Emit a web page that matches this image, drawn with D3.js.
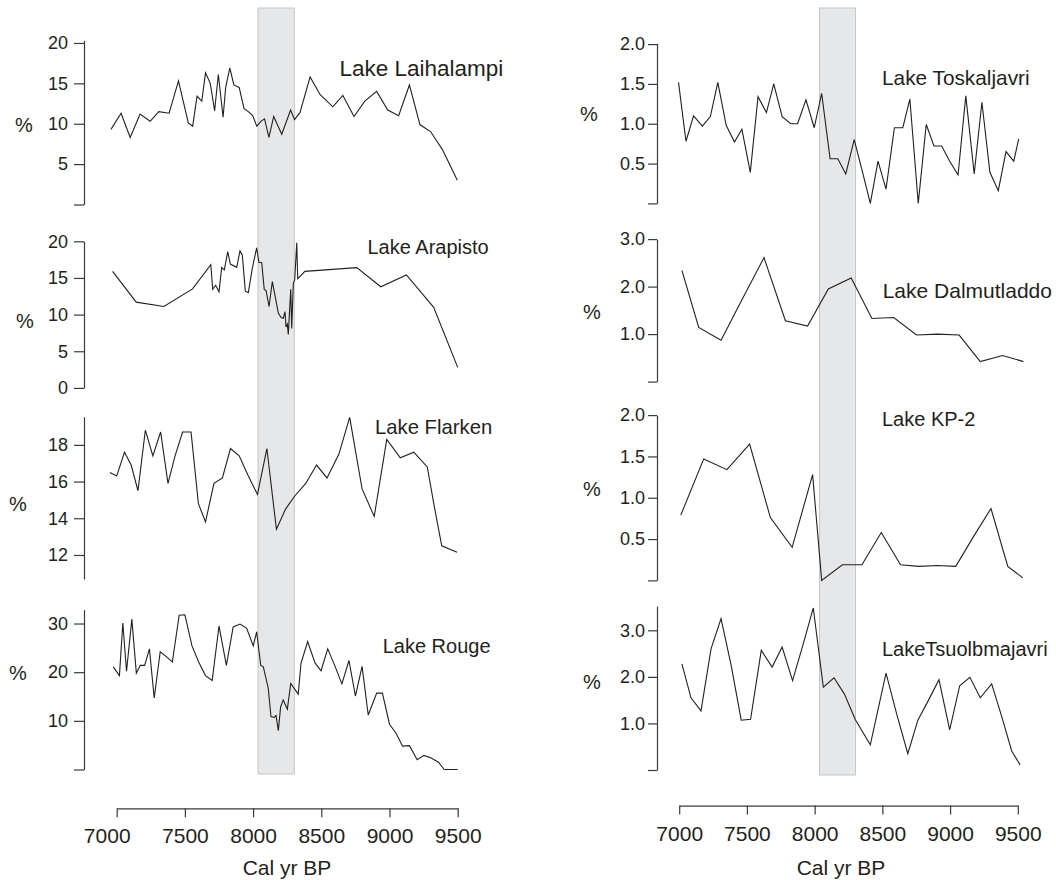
<!DOCTYPE html>
<html>
<head>
<meta charset="utf-8">
<script src="https://cdn.jsdelivr.net/npm/d3@7"></script>
<style>
    body { margin: 0; background: #fff; }
    text { font-family: "Liberation Sans", Arial, sans-serif; fill: #231f20; }
</style>
</head>
<body>
<div id="chart"></div>
<script>
// ---- data: [cal yr BP, %] ----
const bandYears = [8036, 8302];
const xTicks = [7000, 7500, 8000, 8500, 9000, 9500];

const laihalampi = [[6958,9.3],[7032,11.3],[7099,8.3],[7171,11.2],[7245,10.3],[7309,11.5],[7384,11.3],[7453,15.3],
    [7525,10.1],[7557,9.7],[7589,13.4],[7624,12.8],[7651,16.3],[7686,15.0],[7718,11.6],[7745,16.1],[7780,10.8],
    [7799,14.5],[7829,16.9],[7859,14.8],[7898,14.5],[7933,11.9],[7965,11.5],[7997,11.0],[8027,9.7],[8057,10.3],
    [8084,10.6],[8116,8.3],[8151,10.9],[8210,8.7],[8275,11.7],[8304,10.5],[8344,11.4],[8418,15.8],[8492,13.6],
    [8584,12.1],[8658,13.5],[8740,10.9],[8819,12.8],[8906,14.0],[8987,11.7],[9067,11.0],[9146,14.8],[9223,9.9],
    [9302,9.0],[9388,6.8],[9497,3.0]];

const arapisto = [[6970,15.9],[7143,11.7],[7346,11.1],[7556,13.5],[7690,16.8],[7704,13.45],[7726,14.0],[7750,13.1],
    [7770,16.45],[7789,16.1],[7814,18.6],[7833,16.9],[7880,16.45],[7904,18.7],[7921,18.1],[7943,13.2],[7965,13.0],
    [7994,16.3],[8026,19.1],[8043,17.1],[8063,17.1],[8082,13.4],[8095,13.3],[8117,11.1],[8141,14.5],[8185,10.2],
    [8205,9.6],[8221,9.5],[8234,10.4],[8241,8.3],[8251,8.7],[8258,7.3],[8276,13.45],[8283,8.1],[8295,14.3],
    [8305,14.7],[8320,19.8],[8327,14.9],[8380,15.9],[8760,16.4],[8936,13.8],[9124,15.4],[9324,11.0],[9500,2.8]];

const flarken = [[6950,16.5],[7000,16.3],[7057,17.6],[7106,16.9],[7156,15.5],[7210,18.8],[7265,17.4],[7322,18.7],
    [7376,15.9],[7428,17.4],[7483,18.7],[7545,18.7],[7599,14.8],[7651,13.8],[7713,15.9],[7775,16.2],[7834,17.8],
    [7898,17.4],[7965,16.3],[8032,15.3],[8101,17.8],[8171,13.4],[8238,14.5],[8304,15.2],[8386,15.9],[8465,16.9],
    [8542,16.2],[8629,17.5],[8708,19.5],[8799,15.6],[8888,14.1],[8980,18.3],[9079,17.3],[9178,17.6],[9277,16.8],
    [9327,14.7],[9383,12.5],[9495,12.15]];

const rouge = [[6975,21.1],[7020,19.3],[7045,30.1],[7072,20.2],[7111,30.9],[7144,19.8],[7173,21.4],[7205,21.4],
    [7240,24.8],[7275,14.7],[7319,24.2],[7359,23.3],[7408,22.1],[7458,31.7],[7500,31.8],[7552,25.4],[7601,22.1],
    [7651,19.3],[7700,18.3],[7750,29.5],[7804,21.4],[7854,29.3],[7904,29.9],[7953,29.0],[8001,25.4],[8026,28.3],
    [8056,21.4],[8075,21.1],[8111,16.7],[8131,10.9],[8155,10.7],[8168,11.1],[8185,8.0],[8202,12.9],[8221,14.3],
    [8251,12.4],[8276,17.7],[8331,15.5],[8351,21.8],[8400,26.3],[8454,21.9],[8498,20.3],[8547,24.8],[8601,21.2],
    [8651,17.6],[8703,22.4],[8750,15.1],[8799,21.2],[8844,11.2],[8906,15.7],[8948,15.7],[9000,9.3],[9047,7.5],
    [9096,4.8],[9146,4.9],[9203,2.0],[9252,2.9],[9302,2.4],[9359,1.5],[9401,0],[9500,0]];

const toskaljavri = [[6995,1.52],[7050,0.78],[7106,1.10],[7171,0.97],[7230,1.09],[7285,1.52],[7347,0.98],[7408,0.77],
    [7463,0.93],[7525,0.39],[7582,1.34],[7644,1.14],[7698,1.50],[7760,1.09],[7824,1.0],[7874,1.0],[7936,1.30],
    [7997,0.95],[8052,1.38],[8114,0.56],[8171,0.56],[8230,0.37],[8292,0.80],[8354,0.39],[8411,0.0],[8468,0.53],
    [8527,0.18],[8589,0.95],[8651,0.95],[8703,1.31],[8765,0.0],[8824,0.99],[8881,0.72],[8938,0.72],[8997,0.53],
    [9059,0.36],[9116,1.35],[9178,0.37],[9235,1.27],[9294,0.39],[9356,0.16],[9413,0.65],[9470,0.53],[9507,0.81]];

const dalmutladdo = [[7020,2.34],[7144,1.14],[7309,0.87],[7470,1.76],[7626,2.61],[7784,1.28],[7948,1.17],[8101,1.95],
    [8270,2.18],[8423,1.33],[8584,1.35],[8752,0.98],[8906,1.0],[9067,0.98],[9223,0.42],[9388,0.55],[9542,0.42]];

const kp2 = [[7012,0.79],[7181,1.47],[7352,1.34],[7520,1.65],[7673,0.76],[7834,0.40],[7985,1.28],[8052,0.0],
    [8205,0.19],[8349,0.19],[8492,0.58],[8634,0.19],[8770,0.17],[8906,0.18],[9042,0.17],[9173,0.53],[9302,0.87],
    [9426,0.17],[9537,0.03]];

const tsuolbmajavri = [[7020,2.28],[7087,1.55],[7161,1.27],[7235,2.60],[7309,3.25],[7384,2.24],[7458,1.07],[7527,1.09],
    [7606,2.57],[7686,2.21],[7760,2.64],[7837,1.92],[7916,2.71],[7990,3.48],[8064,1.78],[8143,1.98],[8220,1.63],
    [8299,1.09],[8411,0.54],[8527,2.08],[8609,1.17],[8688,0.35],[8762,1.07],[8839,1.49],[8918,1.94],[8997,0.86],
    [9071,1.81],[9146,1.99],[9223,1.55],[9307,1.85],[9383,1.13],[9455,0.41],[9517,0.11]];

// ---- layout ----
const width = 1056, height = 880;
const ink = "#231f20";

const columns = [
    {xRange: [116.7, 457.7], axisX: 84, xAxisY: 808.3, tickSize: 10, tickPad: 6, title: [287, 875], bandY: [8, 774]},
    {xRange: [679.2, 1017.8], axisX: 657, xAxisY: 805.6, tickSize: 9, tickPad: 3, title: [841, 875], bandY: [8, 775]}
];

const intFmt = d3.format("d"), decFmt = d3.format(".1f");

const panels = [
    {name: "Lake Laihalampi", data: laihalampi, col: 0, domain: [0, 20.33], range: [204.5, 40.3],
        ticks: [0, 5, 10, 15, 20], hide: [0], fmt: intFmt, label: [339.5, 75.7], size: 22.5, pct: [24, 125]},
    {name: "Lake Arapisto", data: arapisto, col: 0, domain: [0, 20], range: [387.9, 241.3],
        ticks: [0, 5, 10, 15, 20], hide: [], fmt: intFmt, label: [367.5, 253.8], size: 20, pct: [25, 321]},
    {name: "Lake Flarken", data: flarken, col: 0, domain: [10.69, 19.53], range: [579, 416.8],
        ticks: [12, 14, 16, 18], hide: [], fmt: intFmt, label: [375, 433.7], size: 20.3, pct: [18, 504]},
    {name: "Lake Rouge", data: rouge, col: 0, domain: [0, 32.84], range: [769.5, 609.7],
        ticks: [0, 10, 20, 30], hide: [0], fmt: intFmt, label: [382.7, 652.5], size: 20, pct: [18, 673]},
    {name: "Lake Toskaljavri", data: toskaljavri, col: 1, domain: [0, 2.01], range: [203.4, 43.3],
        ticks: [0, 0.5, 1, 1.5, 2], hide: [0], fmt: decFmt, label: [882, 85.4], size: 20.8, pct: [589, 114]},
    {name: "Lake Dalmutladdo", data: dalmutladdo, col: 1, domain: [0, 3], range: [381.6, 239.1],
        ticks: [0, 1, 2, 3], hide: [0], fmt: decFmt, label: [882.7, 297.8], size: 21, pct: [592, 312]},
    {name: "Lake KP-2", data: kp2, col: 1, domain: [0, 2], range: [580.4, 415.1],
        ticks: [0, 0.5, 1, 1.5, 2], hide: [0], fmt: decFmt, label: [882, 426.1], size: 20, pct: [592, 489]},
    {name: "LakeTsuolbmajavri", data: tsuolbmajavri, col: 1, domain: [0, 3.52], range: [770, 606.1],
        ticks: [0, 1, 2, 3], hide: [0], fmt: decFmt, label: [882, 656], size: 20, pct: [592, 682]}
];

const svg = d3.select("#chart")
    .append("svg")
    .attr("width", width)
    .attr("height", height);

// x scales, grey event band and bottom axes
columns.forEach(function(c, i) {
    c.x = d3.scaleLinear().domain([7000, 9500]).range(c.xRange);

    svg.append("rect")
        .attr("x", c.x(bandYears[0]))
        .attr("y", c.bandY[0])
        .attr("width", c.x(bandYears[1]) - c.x(bandYears[0]))
        .attr("height", c.bandY[1] - c.bandY[0])
        .attr("fill", "#e6e7e8")
        .attr("stroke", "#c4c5c7")
        .attr("stroke-width", 1);

    const gx = svg.append("g")
        .attr("transform", `translate(0, ${c.xAxisY})`)
        .call(d3.axisBottom(c.x)
            .tickValues(xTicks)
            .tickFormat(intFmt)
            .tickSize(9)
            .tickSizeOuter(0)
            .tickPadding(11));
    gx.selectAll("text").style("font-size", "21px");
    if (i === 0) gx.selectAll("text").filter(d => d === 7000).attr("dx", -10);

    svg.append("text")
        .attr("x", c.title[0])
        .attr("y", c.title[1])
        .attr("text-anchor", "middle")
        .style("font-size", "21px")
        .text("Cal yr BP");
});

const line = d3.line();

panels.forEach(function(p) {
    const c = columns[p.col];
    const y = d3.scaleLinear().domain(p.domain).range(p.range);

    svg.append("path")
        .datum(p.data)
        .attr("fill", "none")
        .attr("stroke", ink)
        .attr("stroke-width", 1.1)
        .attr("stroke-linejoin", "miter")
        .attr("d", line.x(d => c.x(d[0])).y(d => y(d[1])));

    const gy = svg.append("g")
        .attr("transform", `translate(${c.axisX}, 0)`)
        .call(d3.axisLeft(y)
            .tickValues(p.ticks)
            .tickSize(c.tickSize)
            .tickSizeOuter(0)
            .tickPadding(c.tickPad)
            .tickFormat(d => p.hide.includes(d) ? "" : p.fmt(d)));
    gy.selectAll("text").style("font-size", "18px");

    svg.append("text")
        .attr("x", p.pct[0])
        .attr("y", p.pct[1])
        .attr("text-anchor", "middle")
        .attr("dominant-baseline", "central")
        .style("font-size", "20px")
        .text("%");

    svg.append("text")
        .attr("x", p.label[0])
        .attr("y", p.label[1])
        .style("font-size", p.size + "px")
        .text(p.name);
});

svg.selectAll(".domain, .tick line")
    .attr("stroke", "#3a3a3a")
    .attr("stroke-width", 1.2);
</script>
</body>
</html>
